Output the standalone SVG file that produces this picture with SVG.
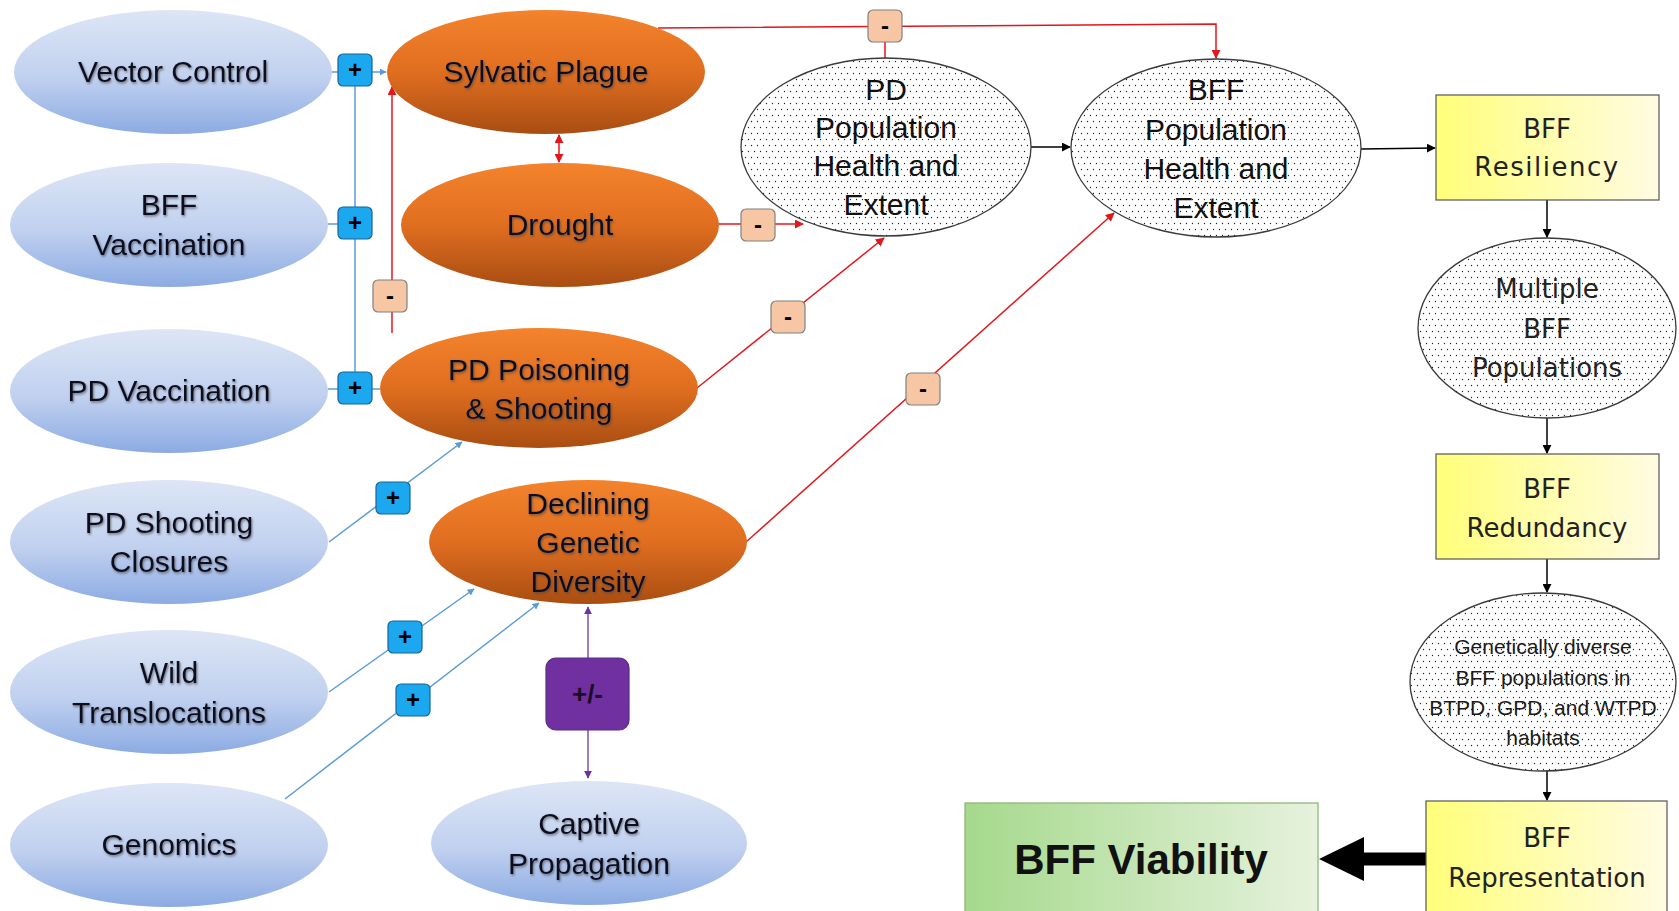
<svg xmlns="http://www.w3.org/2000/svg" width="1679" height="911" viewBox="0 0 1679 911">
<defs>
  <linearGradient id="gBlue" x1="0" y1="0" x2="0" y2="1">
    <stop offset="0" stop-color="#dde6f6"/>
    <stop offset="0.55" stop-color="#c0d0ef"/>
    <stop offset="1" stop-color="#8cabe3"/>
  </linearGradient>
  <linearGradient id="gOrange" x1="0" y1="0" x2="0" y2="1">
    <stop offset="0" stop-color="#f4832c"/>
    <stop offset="0.5" stop-color="#e06e20"/>
    <stop offset="1" stop-color="#a94d12"/>
  </linearGradient>
  <linearGradient id="gYellow" x1="0" y1="0" x2="1" y2="0">
    <stop offset="0" stop-color="#ffff7a"/>
    <stop offset="1" stop-color="#fffbe2"/>
  </linearGradient>
  <linearGradient id="gGreen" x1="0" y1="0" x2="1" y2="0">
    <stop offset="0" stop-color="#a5d98c"/>
    <stop offset="1" stop-color="#e6f2dd"/>
  </linearGradient>
  <pattern id="dots" width="6" height="12" patternUnits="userSpaceOnUse">
    <rect width="6" height="12" fill="#ffffff"/>
    <circle cx="1.5" cy="1.5" r="0.65" fill="#222"/>
    <circle cx="4.5" cy="7.5" r="0.65" fill="#222"/>
  </pattern>
  <filter id="tshadow" x="-10%" y="-30%" width="120%" height="160%">
    <feDropShadow dx="1" dy="1.5" stdDeviation="1.2" flood-color="#444" flood-opacity="0.7"/>
  </filter>
  <marker id="aBlue" viewBox="0 0 10 10" refX="9" refY="5" markerWidth="7" markerHeight="7" orient="auto-start-reverse" markerUnits="userSpaceOnUse">
    <path d="M0,0 L10,5 L0,10 z" fill="#5b9bd5"/>
  </marker>
  <marker id="aRed" viewBox="0 0 10 10" refX="9" refY="5" markerWidth="9" markerHeight="9" orient="auto-start-reverse" markerUnits="userSpaceOnUse">
    <path d="M0,0 L10,5 L0,10 z" fill="#e3161c"/>
  </marker>
  <marker id="aBlack" viewBox="0 0 10 10" refX="9" refY="5" markerWidth="9" markerHeight="9" orient="auto-start-reverse" markerUnits="userSpaceOnUse">
    <path d="M0,0 L10,5 L0,10 z" fill="#000"/>
  </marker>
  <marker id="aPurple" viewBox="0 0 10 10" refX="9" refY="5" markerWidth="8" markerHeight="8" orient="auto-start-reverse" markerUnits="userSpaceOnUse">
    <path d="M0,0 L10,5 L0,10 z" fill="#7030a0"/>
  </marker>
</defs>
<style>
  .blue { fill: url(#gBlue); stroke: none; }
  .orange { fill: url(#gOrange); stroke: none; }
  .dotted { fill: url(#dots); stroke: #3a3a3a; stroke-width: 1.3; }
  .yellow { fill: url(#gYellow); stroke: #555; stroke-width: 1.2; }
  .green { fill: url(#gGreen); stroke: #86b56c; stroke-width: 1.2; }
  .t { font-family: "Liberation Sans", Arial, sans-serif; font-size: 30px; fill: #0e1024; text-anchor: middle; filter: url(#tshadow); }
  .tp { font-family: "Liberation Sans", Arial, sans-serif; font-size: 30px; fill: #111; text-anchor: middle; }
  .tv { font-family: "DejaVu Sans", Verdana, sans-serif; font-size: 26px; fill: #222; text-anchor: middle; }
  .tvw { letter-spacing: 1.5px; }
  .tg { font-family: "Liberation Sans", Arial, sans-serif; font-size: 21px; fill: #1a1a1a; text-anchor: middle; }
  .big { font-family: "Liberation Sans", Arial, sans-serif; font-size: 42px; font-weight: bold; fill: #111; text-anchor: middle; }
  .lb { stroke: #5b9bd5; stroke-width: 1.5; fill: none; }
  .lr { stroke: #e3161c; stroke-width: 1.5; fill: none; }
  .lk { stroke: #000; stroke-width: 1.5; fill: none; }
  .lp { stroke: #7f4fb0; stroke-width: 1.5; fill: none; }
  .bplus { fill: #1ca8ee; stroke: #17649a; stroke-width: 1.2; }
  .bminus { fill: #f7c7a5; stroke: #808080; stroke-width: 1.2; }
  .bpm { fill: #7030a0; stroke: #5c2a86; stroke-width: 1.2; }
  .bt { font-family: "Liberation Sans", Arial, sans-serif; font-size: 24px; font-weight: bold; fill: #000; text-anchor: middle; }
</style>

<!-- connectors -->
<g id="connectors">
  <line class="lb" x1="332" y1="72" x2="386" y2="72" marker-end="url(#aBlue)"/>
  <line class="lb" x1="328" y1="224" x2="345" y2="224"/>
  <line class="lb" x1="328" y1="389" x2="380" y2="389"/>
  <line class="lb" x1="355" y1="72" x2="355" y2="389"/>
  <line class="lb" x1="329" y1="542" x2="462" y2="442" marker-end="url(#aBlue)"/>
  <line class="lb" x1="329" y1="692" x2="474" y2="589" marker-end="url(#aBlue)"/>
  <line class="lb" x1="285" y1="799" x2="539" y2="603" marker-end="url(#aBlue)"/>
  <line class="lr" x1="392" y1="333" x2="392" y2="87" marker-end="url(#aRed)"/>
  <line class="lr" x1="559" y1="135" x2="559" y2="162" marker-start="url(#aRed)" marker-end="url(#aRed)"/>
  <polyline class="lr" points="658,28 1216,24 1216,58" marker-end="url(#aRed)"/>
  <line class="lr" x1="885" y1="40" x2="885" y2="58"/>
  <line class="lr" x1="718" y1="224" x2="803" y2="224" marker-end="url(#aRed)"/>
  <line class="lr" x1="697" y1="388" x2="884" y2="238" marker-end="url(#aRed)"/>
  <line class="lr" x1="746" y1="542" x2="1114" y2="213" marker-end="url(#aRed)"/>
  <line class="lk" x1="1031" y1="147" x2="1070" y2="147" marker-end="url(#aBlack)"/>
  <line class="lk" x1="1361" y1="149" x2="1435" y2="148" marker-end="url(#aBlack)"/>
  <line class="lk" x1="1547" y1="200" x2="1547" y2="237" marker-end="url(#aBlack)"/>
  <line class="lk" x1="1547" y1="418" x2="1547" y2="453" marker-end="url(#aBlack)"/>
  <line class="lk" x1="1547" y1="559" x2="1547" y2="592" marker-end="url(#aBlack)"/>
  <line class="lk" x1="1547" y1="771" x2="1547" y2="800" marker-end="url(#aBlack)"/>
  <line class="lp" x1="588" y1="607" x2="588" y2="778" marker-start="url(#aPurple)" marker-end="url(#aPurple)"/>
  <polygon points="1426,852.5 1364,852.5 1364,837 1319,859 1364,881 1364,865.5 1426,865.5" fill="#000"/>

  <g id="badges">
    <rect class="bplus" x="338" y="54" width="34" height="32" rx="5"/>
    <text class="bt" x="355" y="78">+</text>
    <rect class="bplus" x="338" y="207" width="34" height="32" rx="5"/>
    <text class="bt" x="355" y="231">+</text>
    <rect class="bplus" x="338" y="372" width="34" height="32" rx="5"/>
    <text class="bt" x="355" y="396">+</text>
    <rect class="bplus" x="376" y="482" width="34" height="32" rx="5"/>
    <text class="bt" x="393" y="506">+</text>
    <rect class="bplus" x="388" y="621" width="34" height="32" rx="5"/>
    <text class="bt" x="405" y="645">+</text>
    <rect class="bplus" x="396" y="684" width="34" height="32" rx="5"/>
    <text class="bt" x="413" y="708">+</text>

    <rect class="bminus" x="868" y="10" width="34" height="32" rx="5"/>
    <text class="bt" x="885" y="34">-</text>
    <rect class="bminus" x="373" y="280" width="34" height="32" rx="5"/>
    <text class="bt" x="390" y="304">-</text>
    <rect class="bminus" x="741" y="209" width="34" height="32" rx="5"/>
    <text class="bt" x="758" y="233">-</text>
    <rect class="bminus" x="771" y="301" width="34" height="32" rx="5"/>
    <text class="bt" x="788" y="325">-</text>
    <rect class="bminus" x="906" y="373" width="34" height="32" rx="5"/>
    <text class="bt" x="923" y="397">-</text>

    <rect class="bpm" x="546" y="658" width="83" height="72" rx="10"/>
    <text class="bt" x="587.5" y="703" style="font-size:26px;fill:#1a0d24">+/-</text>
  </g>
</g>

<g id="vector-control">
  <ellipse class="blue" cx="173" cy="72" rx="159" ry="62"/>
  <text class="t" x="173" y="82">Vector Control</text>
</g>
<g id="bff-vaccination">
  <ellipse class="blue" cx="169" cy="225" rx="159" ry="62"/>
  <text class="t" x="169" y="215">BFF</text>
  <text class="t" x="169" y="255">Vaccination</text>
</g>
<g id="pd-vaccination">
  <ellipse class="blue" cx="169" cy="391" rx="159" ry="62"/>
  <text class="t" x="169" y="401">PD Vaccination</text>
</g>
<g id="pd-shooting-closures">
  <ellipse class="blue" cx="169" cy="542" rx="159" ry="62"/>
  <text class="t" x="169" y="533">PD Shooting</text>
  <text class="t" x="169" y="572">Closures</text>
</g>
<g id="wild-translocations">
  <ellipse class="blue" cx="169" cy="692" rx="159" ry="62"/>
  <text class="t" x="169" y="683">Wild</text>
  <text class="t" x="169" y="723">Translocations</text>
</g>
<g id="genomics">
  <ellipse class="blue" cx="169" cy="845" rx="159" ry="62"/>
  <text class="t" x="169" y="855">Genomics</text>
</g>
<g id="captive-propagation">
  <ellipse class="blue" cx="589" cy="843" rx="158" ry="62"/>
  <text class="t" x="589" y="834">Captive</text>
  <text class="t" x="589" y="874">Propagation</text>
</g>

<g id="sylvatic-plague">
  <ellipse class="orange" cx="546" cy="72" rx="159" ry="62"/>
  <text class="t" x="546" y="82">Sylvatic Plague</text>
</g>
<g id="drought">
  <ellipse class="orange" cx="560" cy="225" rx="159" ry="62"/>
  <text class="t" x="560" y="235">Drought</text>
</g>
<g id="pd-poisoning">
  <ellipse class="orange" cx="539" cy="388" rx="159" ry="60"/>
  <text class="t" x="539" y="380">PD Poisoning</text>
  <text class="t" x="539" y="419">&amp; Shooting</text>
</g>
<g id="declining-genetic-diversity">
  <ellipse class="orange" cx="588" cy="542" rx="159" ry="62"/>
  <text class="t" x="588" y="514">Declining</text>
  <text class="t" x="588" y="553">Genetic</text>
  <text class="t" x="588" y="592">Diversity</text>
</g>

<g id="pd-population">
  <ellipse class="dotted" cx="886" cy="147" rx="145" ry="89"/>
  <text class="tp" x="886" y="100">PD</text>
  <text class="tp" x="886" y="138">Population</text>
  <text class="tp" x="886" y="176">Health and</text>
  <text class="tp" x="886" y="215">Extent</text>
</g>
<g id="bff-population">
  <ellipse class="dotted" cx="1216" cy="148" rx="145" ry="89"/>
  <text class="tp" x="1216" y="100">BFF</text>
  <text class="tp" x="1216" y="140">Population</text>
  <text class="tp" x="1216" y="179">Health and</text>
  <text class="tp" x="1216" y="218">Extent</text>
</g>
<g id="multiple-bff-populations">
  <ellipse class="dotted" cx="1547" cy="328" rx="129" ry="90"/>
  <text class="tv" x="1547" y="298">Multiple</text>
  <text class="tv" x="1547" y="338">BFF</text>
  <text class="tv" x="1547" y="377">Populations</text>
</g>
<g id="genetically-diverse">
  <ellipse class="dotted" cx="1543" cy="682" rx="133" ry="89"/>
  <text class="tg" x="1543" y="654">Genetically diverse</text>
  <text class="tg" x="1543" y="685">BFF populations in</text>
  <text class="tg" x="1543" y="715">BTPD, GPD, and WTPD</text>
  <text class="tg" x="1543" y="745">habitats</text>
</g>

<g id="bff-resiliency">
  <rect class="yellow" x="1436" y="95" width="223" height="105"/>
  <text class="tv" x="1547" y="138">BFF</text>
  <text class="tv tvw" x="1547" y="176">Resiliency</text>
</g>
<g id="bff-redundancy">
  <rect class="yellow" x="1436" y="454" width="223" height="105"/>
  <text class="tv" x="1547" y="498">BFF</text>
  <text class="tv" x="1547" y="537">Redundancy</text>
</g>
<g id="bff-representation">
  <rect class="yellow" x="1426" y="801" width="241" height="120"/>
  <text class="tv" x="1547" y="847">BFF</text>
  <text class="tv" x="1547" y="887">Representation</text>
</g>

<g id="bff-viability">
  <rect class="green" x="965" y="803" width="353" height="120"/>
  <text class="big" x="1141" y="874">BFF Viability</text>
</g>
</svg>
